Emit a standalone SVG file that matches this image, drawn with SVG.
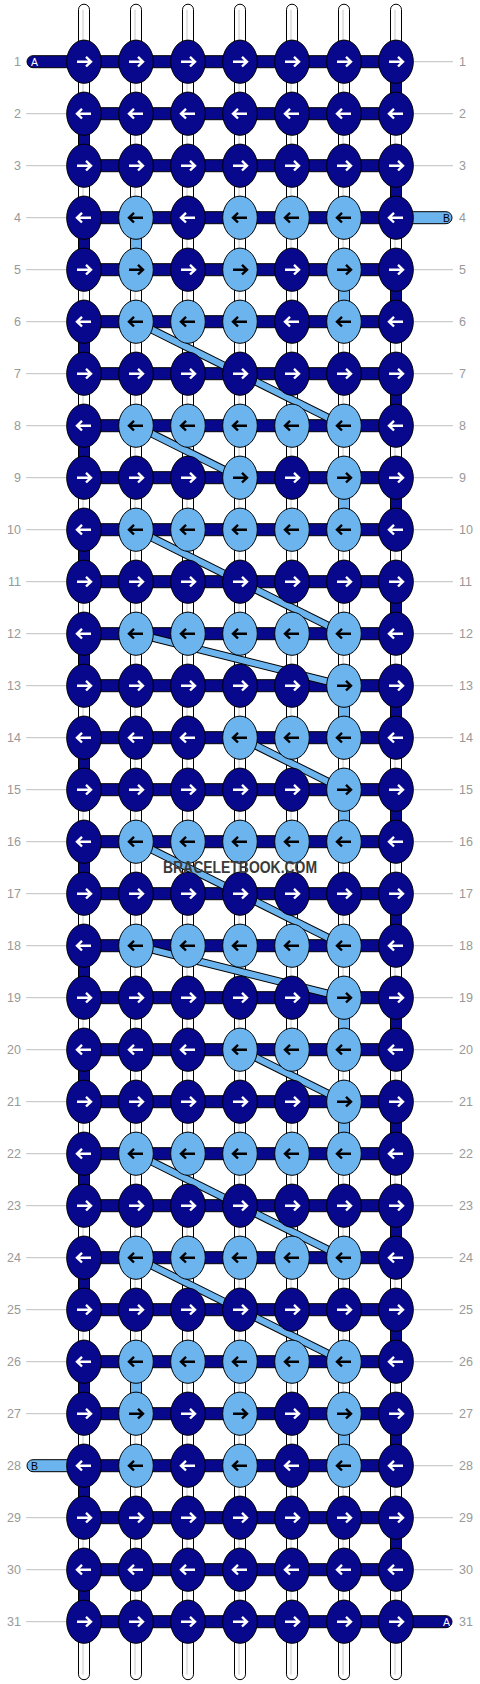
<svg xmlns="http://www.w3.org/2000/svg" xmlns:xlink="http://www.w3.org/1999/xlink" width="480" height="1684" viewBox="0 0 480 1684">
<style>
.vs{fill:#fff;stroke:#000;stroke-width:1}
.vl{stroke:#c8c8c8;stroke-width:1}
.dk{fill:#08088c;stroke:#000;stroke-width:1}
.lt{fill:#6cb4ee;stroke:#000;stroke-width:1}
.aw{fill:none;stroke:#fff;stroke-width:2.4}
.ab{fill:none;stroke:#000;stroke-width:2.4}
.bo{stroke:#000;stroke-width:8;fill:none}
.bi{stroke:#6cb4ee;stroke-width:6;fill:none}
.rl{stroke:#c0c0c0;stroke-width:1}
.num{font-family:"Liberation Sans",Arial,sans-serif;font-size:12.5px;fill:#999}
.tl{font-family:"Liberation Sans",Arial,sans-serif;font-size:10.5px}
</style>
<defs>
<rect id="hs" x="84" y="-6" width="312" height="12" class="dk"/>
<g id="dR"><ellipse rx="17.3" ry="21.6" class="dk"/><path d="M-7,0H6.5M2,-4.8L7,0L2,4.8" class="aw"/></g>
<g id="dL"><ellipse rx="17.3" ry="21.6" class="dk"/><path d="M7,0H-6.5M-2,-4.8L-7,0L-2,4.8" class="aw"/></g>
<g id="lR"><ellipse rx="17.3" ry="21.6" class="lt"/><path d="M-7,0H6.5M2,-4.8L7,0L2,4.8" class="ab"/></g>
<g id="lL"><ellipse rx="17.3" ry="21.6" class="lt"/><path d="M7,0H-6.5M-2,-4.8L-7,0L-2,4.8" class="ab"/></g>
</defs>
<g transform="translate(0,0.7)">
<g id="connectors">
<g id="vertical-strings">
<rect x="78.5" y="3.5" width="11" height="1675.5" rx="5.5" class="vs"/>
<rect x="130.5" y="3.5" width="11" height="1675.5" rx="5.5" class="vs"/>
<rect x="182.5" y="3.5" width="11" height="1675.5" rx="5.5" class="vs"/>
<rect x="234.5" y="3.5" width="11" height="1675.5" rx="5.5" class="vs"/>
<rect x="286.5" y="3.5" width="11" height="1675.5" rx="5.5" class="vs"/>
<rect x="338.5" y="3.5" width="11" height="1675.5" rx="5.5" class="vs"/>
<rect x="390.5" y="3.5" width="11" height="1675.5" rx="5.5" class="vs"/>
<line x1="83" y1="9" x2="83" y2="1674" class="vl"/>
<line x1="135" y1="9" x2="135" y2="1674" class="vl"/>
<line x1="187" y1="9" x2="187" y2="1674" class="vl"/>
<line x1="239" y1="9" x2="239" y2="1674" class="vl"/>
<line x1="291" y1="9" x2="291" y2="1674" class="vl"/>
<line x1="343" y1="9" x2="343" y2="1674" class="vl"/>
<line x1="395" y1="9" x2="395" y2="1674" class="vl"/>
</g>
<g id="turns-a">
<rect x="390.5" y="61" width="11" height="52" class="dk"/>
<rect x="390.5" y="165" width="11" height="52" class="dk"/>
<rect x="390.5" y="269" width="11" height="52" class="dk"/>
<rect x="390.5" y="373" width="11" height="52" class="dk"/>
<rect x="390.5" y="477" width="11" height="52" class="dk"/>
<rect x="390.5" y="581" width="11" height="52" class="dk"/>
<rect x="390.5" y="685" width="11" height="52" class="dk"/>
<rect x="390.5" y="789" width="11" height="52" class="dk"/>
<rect x="390.5" y="893" width="11" height="52" class="dk"/>
<rect x="390.5" y="997" width="11" height="52" class="dk"/>
<rect x="390.5" y="1101" width="11" height="52" class="dk"/>
<rect x="390.5" y="1205" width="11" height="52" class="dk"/>
<rect x="390.5" y="1309" width="11" height="52" class="dk"/>
<rect x="390.5" y="1413" width="11" height="52" class="dk"/>
<rect x="390.5" y="1517" width="11" height="52" class="dk"/>
<rect x="78.5" y="113" width="11" height="52" class="dk"/>
<rect x="78.5" y="217" width="11" height="52" class="dk"/>
<rect x="78.5" y="321" width="11" height="52" class="dk"/>
<rect x="78.5" y="425" width="11" height="52" class="dk"/>
<rect x="78.5" y="529" width="11" height="52" class="dk"/>
<rect x="78.5" y="633" width="11" height="52" class="dk"/>
<rect x="78.5" y="737" width="11" height="52" class="dk"/>
<rect x="78.5" y="841" width="11" height="52" class="dk"/>
<rect x="78.5" y="945" width="11" height="52" class="dk"/>
<rect x="78.5" y="1049" width="11" height="52" class="dk"/>
<rect x="78.5" y="1153" width="11" height="52" class="dk"/>
<rect x="78.5" y="1257" width="11" height="52" class="dk"/>
<rect x="78.5" y="1361" width="11" height="52" class="dk"/>
<rect x="78.5" y="1465" width="11" height="52" class="dk"/>
<rect x="78.5" y="1569" width="11" height="52" class="dk"/>
</g>
<g id="turns-b">
<rect x="130.5" y="217" width="11" height="52" class="lt"/>
<rect x="130.5" y="1361" width="11" height="52" class="lt"/>
<rect x="338.5" y="269" width="11" height="52" class="lt"/>
<rect x="338.5" y="477" width="11" height="52" class="lt"/>
<rect x="338.5" y="685" width="11" height="52" class="lt"/>
<rect x="338.5" y="789" width="11" height="52" class="lt"/>
<rect x="338.5" y="997" width="11" height="52" class="lt"/>
<rect x="338.5" y="1101" width="11" height="52" class="lt"/>
<rect x="338.5" y="1413" width="11" height="52" class="lt"/>
</g>
<g id="horizontal-strings">
<use href="#hs" y="61"/><use href="#hs" y="113"/><use href="#hs" y="165"/><use href="#hs" y="217"/>
<use href="#hs" y="269"/><use href="#hs" y="321"/><use href="#hs" y="373"/><use href="#hs" y="425"/>
<use href="#hs" y="477"/><use href="#hs" y="529"/><use href="#hs" y="581"/><use href="#hs" y="633"/>
<use href="#hs" y="685"/><use href="#hs" y="737"/><use href="#hs" y="789"/><use href="#hs" y="841"/>
<use href="#hs" y="893"/><use href="#hs" y="945"/><use href="#hs" y="997"/><use href="#hs" y="1049"/>
<use href="#hs" y="1101"/><use href="#hs" y="1153"/><use href="#hs" y="1205"/><use href="#hs" y="1257"/>
<use href="#hs" y="1309"/><use href="#hs" y="1361"/><use href="#hs" y="1413"/><use href="#hs" y="1465"/>
<use href="#hs" y="1517"/><use href="#hs" y="1569"/><use href="#hs" y="1621"/>
</g>
<g id="tails">
<path d="M84,55H33a6,6 0 0 0 0,12H84Z" class="dk"/>
<path d="M84,1459H33a6,6 0 0 0 0,12H84Z" class="lt"/>
<path d="M396,211H446a6,6 0 0 1 0,12H396Z" class="lt"/>
<path d="M396,1615H446a6,6 0 0 1 0,12H396Z" class="dk"/>
</g>
<g id="bands">
<path d="M136,321L344,425" class="bo"/><path d="M136,321L344,425" class="bi"/>
<path d="M136,425L240,477" class="bo"/><path d="M136,425L240,477" class="bi"/>
<path d="M136,529L344,633" class="bo"/><path d="M136,529L344,633" class="bi"/>
<path d="M136,633L344,685" class="bo"/><path d="M136,633L344,685" class="bi"/>
<path d="M240,737L344,789" class="bo"/><path d="M240,737L344,789" class="bi"/>
<path d="M136,841L344,945" class="bo"/><path d="M136,841L344,945" class="bi"/>
<path d="M136,945L344,997" class="bo"/><path d="M136,945L344,997" class="bi"/>
<path d="M240,1049L344,1101" class="bo"/><path d="M240,1049L344,1101" class="bi"/>
<path d="M136,1153L344,1257" class="bo"/><path d="M136,1153L344,1257" class="bi"/>
<path d="M136,1257L344,1361" class="bo"/><path d="M136,1257L344,1361" class="bi"/>
</g>
</g>
<g id="row-lines">
<line x1="26" y1="113" x2="70" y2="113" class="rl"/><line x1="26" y1="165" x2="70" y2="165" class="rl"/>
<line x1="26" y1="217" x2="70" y2="217" class="rl"/><line x1="26" y1="269" x2="70" y2="269" class="rl"/>
<line x1="26" y1="321" x2="70" y2="321" class="rl"/><line x1="26" y1="373" x2="70" y2="373" class="rl"/>
<line x1="26" y1="425" x2="70" y2="425" class="rl"/><line x1="26" y1="477" x2="70" y2="477" class="rl"/>
<line x1="26" y1="529" x2="70" y2="529" class="rl"/><line x1="26" y1="581" x2="70" y2="581" class="rl"/>
<line x1="26" y1="633" x2="70" y2="633" class="rl"/><line x1="26" y1="685" x2="70" y2="685" class="rl"/>
<line x1="26" y1="737" x2="70" y2="737" class="rl"/><line x1="26" y1="789" x2="70" y2="789" class="rl"/>
<line x1="26" y1="841" x2="70" y2="841" class="rl"/><line x1="26" y1="893" x2="70" y2="893" class="rl"/>
<line x1="26" y1="945" x2="70" y2="945" class="rl"/><line x1="26" y1="997" x2="70" y2="997" class="rl"/>
<line x1="26" y1="1049" x2="70" y2="1049" class="rl"/><line x1="26" y1="1101" x2="70" y2="1101" class="rl"/>
<line x1="26" y1="1153" x2="70" y2="1153" class="rl"/><line x1="26" y1="1205" x2="70" y2="1205" class="rl"/>
<line x1="26" y1="1257" x2="70" y2="1257" class="rl"/><line x1="26" y1="1309" x2="70" y2="1309" class="rl"/>
<line x1="26" y1="1361" x2="70" y2="1361" class="rl"/><line x1="26" y1="1413" x2="70" y2="1413" class="rl"/>
<line x1="26" y1="1517" x2="70" y2="1517" class="rl"/><line x1="26" y1="1569" x2="70" y2="1569" class="rl"/>
<line x1="26" y1="1621" x2="70" y2="1621" class="rl"/>
<line x1="410" y1="61" x2="453" y2="61" class="rl"/><line x1="410" y1="113" x2="453" y2="113" class="rl"/>
<line x1="410" y1="165" x2="453" y2="165" class="rl"/><line x1="410" y1="269" x2="453" y2="269" class="rl"/>
<line x1="410" y1="321" x2="453" y2="321" class="rl"/><line x1="410" y1="373" x2="453" y2="373" class="rl"/>
<line x1="410" y1="425" x2="453" y2="425" class="rl"/><line x1="410" y1="477" x2="453" y2="477" class="rl"/>
<line x1="410" y1="529" x2="453" y2="529" class="rl"/><line x1="410" y1="581" x2="453" y2="581" class="rl"/>
<line x1="410" y1="633" x2="453" y2="633" class="rl"/><line x1="410" y1="685" x2="453" y2="685" class="rl"/>
<line x1="410" y1="737" x2="453" y2="737" class="rl"/><line x1="410" y1="789" x2="453" y2="789" class="rl"/>
<line x1="410" y1="841" x2="453" y2="841" class="rl"/><line x1="410" y1="893" x2="453" y2="893" class="rl"/>
<line x1="410" y1="945" x2="453" y2="945" class="rl"/><line x1="410" y1="997" x2="453" y2="997" class="rl"/>
<line x1="410" y1="1049" x2="453" y2="1049" class="rl"/><line x1="410" y1="1101" x2="453" y2="1101" class="rl"/>
<line x1="410" y1="1153" x2="453" y2="1153" class="rl"/><line x1="410" y1="1205" x2="453" y2="1205" class="rl"/>
<line x1="410" y1="1257" x2="453" y2="1257" class="rl"/><line x1="410" y1="1309" x2="453" y2="1309" class="rl"/>
<line x1="410" y1="1361" x2="453" y2="1361" class="rl"/><line x1="410" y1="1413" x2="453" y2="1413" class="rl"/>
<line x1="410" y1="1465" x2="453" y2="1465" class="rl"/><line x1="410" y1="1517" x2="453" y2="1517" class="rl"/>
<line x1="410" y1="1569" x2="453" y2="1569" class="rl"/>
</g>
<g id="row-numbers" class="num">
<text x="21" y="65.5" text-anchor="end">1</text><text x="21" y="117.5" text-anchor="end">2</text><text x="21" y="169.5" text-anchor="end">3</text><text x="21" y="221.5" text-anchor="end">4</text><text x="21" y="273.5" text-anchor="end">5</text><text x="21" y="325.5" text-anchor="end">6</text><text x="21" y="377.5" text-anchor="end">7</text><text x="21" y="429.5" text-anchor="end">8</text><text x="21" y="481.5" text-anchor="end">9</text><text x="21" y="533.5" text-anchor="end">10</text><text x="21" y="585.5" text-anchor="end">11</text><text x="21" y="637.5" text-anchor="end">12</text><text x="21" y="689.5" text-anchor="end">13</text><text x="21" y="741.5" text-anchor="end">14</text><text x="21" y="793.5" text-anchor="end">15</text><text x="21" y="845.5" text-anchor="end">16</text><text x="21" y="897.5" text-anchor="end">17</text><text x="21" y="949.5" text-anchor="end">18</text><text x="21" y="1001.5" text-anchor="end">19</text><text x="21" y="1053.5" text-anchor="end">20</text><text x="21" y="1105.5" text-anchor="end">21</text><text x="21" y="1157.5" text-anchor="end">22</text><text x="21" y="1209.5" text-anchor="end">23</text><text x="21" y="1261.5" text-anchor="end">24</text><text x="21" y="1313.5" text-anchor="end">25</text><text x="21" y="1365.5" text-anchor="end">26</text><text x="21" y="1417.5" text-anchor="end">27</text><text x="21" y="1469.5" text-anchor="end">28</text><text x="21" y="1521.5" text-anchor="end">29</text><text x="21" y="1573.5" text-anchor="end">30</text><text x="21" y="1625.5" text-anchor="end">31</text>
<text x="459" y="65.5">1</text><text x="459" y="117.5">2</text><text x="459" y="169.5">3</text><text x="459" y="221.5">4</text><text x="459" y="273.5">5</text><text x="459" y="325.5">6</text><text x="459" y="377.5">7</text><text x="459" y="429.5">8</text><text x="459" y="481.5">9</text><text x="459" y="533.5">10</text><text x="459" y="585.5">11</text><text x="459" y="637.5">12</text><text x="459" y="689.5">13</text><text x="459" y="741.5">14</text><text x="459" y="793.5">15</text><text x="459" y="845.5">16</text><text x="459" y="897.5">17</text><text x="459" y="949.5">18</text><text x="459" y="1001.5">19</text><text x="459" y="1053.5">20</text><text x="459" y="1105.5">21</text><text x="459" y="1157.5">22</text><text x="459" y="1209.5">23</text><text x="459" y="1261.5">24</text><text x="459" y="1313.5">25</text><text x="459" y="1365.5">26</text><text x="459" y="1417.5">27</text><text x="459" y="1469.5">28</text><text x="459" y="1521.5">29</text><text x="459" y="1573.5">30</text><text x="459" y="1625.5">31</text>
</g>
<g id="tail-labels" class="tl">
<text x="31" y="65" fill="#fff">A</text>
<text x="31" y="1469" fill="#000">B</text>
<text x="450" y="221" fill="#000" text-anchor="end">B</text>
<text x="450" y="1625" fill="#fff" text-anchor="end">A</text>
</g>
<g id="knots">
<g id="k1_1"><use href="#dR" x="84" y="61"/></g><g id="k1_2"><use href="#dR" x="136" y="61"/></g><g id="k1_3"><use href="#dR" x="188" y="61"/></g><g id="k1_4"><use href="#dR" x="240" y="61"/></g><g id="k1_5"><use href="#dR" x="292" y="61"/></g><g id="k1_6"><use href="#dR" x="344" y="61"/></g><g id="k1_7"><use href="#dR" x="396" y="61"/></g>
<g id="k2_1"><use href="#dL" x="84" y="113"/></g><g id="k2_2"><use href="#dL" x="136" y="113"/></g><g id="k2_3"><use href="#dL" x="188" y="113"/></g><g id="k2_4"><use href="#dL" x="240" y="113"/></g><g id="k2_5"><use href="#dL" x="292" y="113"/></g><g id="k2_6"><use href="#dL" x="344" y="113"/></g><g id="k2_7"><use href="#dL" x="396" y="113"/></g>
<g id="k3_1"><use href="#dR" x="84" y="165"/></g><g id="k3_2"><use href="#dR" x="136" y="165"/></g><g id="k3_3"><use href="#dR" x="188" y="165"/></g><g id="k3_4"><use href="#dR" x="240" y="165"/></g><g id="k3_5"><use href="#dR" x="292" y="165"/></g><g id="k3_6"><use href="#dR" x="344" y="165"/></g><g id="k3_7"><use href="#dR" x="396" y="165"/></g>
<g id="k4_1"><use href="#dL" x="84" y="217"/></g><g id="k4_2"><use href="#lL" x="136" y="217"/></g><g id="k4_3"><use href="#dL" x="188" y="217"/></g><g id="k4_4"><use href="#lL" x="240" y="217"/></g><g id="k4_5"><use href="#lL" x="292" y="217"/></g><g id="k4_6"><use href="#lL" x="344" y="217"/></g><g id="k4_7"><use href="#dL" x="396" y="217"/></g>
<g id="k5_1"><use href="#dR" x="84" y="269"/></g><g id="k5_2"><use href="#lR" x="136" y="269"/></g><g id="k5_3"><use href="#dR" x="188" y="269"/></g><g id="k5_4"><use href="#lR" x="240" y="269"/></g><g id="k5_5"><use href="#dR" x="292" y="269"/></g><g id="k5_6"><use href="#lR" x="344" y="269"/></g><g id="k5_7"><use href="#dR" x="396" y="269"/></g>
<g id="k6_1"><use href="#dL" x="84" y="321"/></g><g id="k6_2"><use href="#lL" x="136" y="321"/></g><g id="k6_3"><use href="#lL" x="188" y="321"/></g><g id="k6_4"><use href="#lL" x="240" y="321"/></g><g id="k6_5"><use href="#dL" x="292" y="321"/></g><g id="k6_6"><use href="#lL" x="344" y="321"/></g><g id="k6_7"><use href="#dL" x="396" y="321"/></g>
<g id="k7_1"><use href="#dR" x="84" y="373"/></g><g id="k7_2"><use href="#dR" x="136" y="373"/></g><g id="k7_3"><use href="#dR" x="188" y="373"/></g><g id="k7_4"><use href="#dR" x="240" y="373"/></g><g id="k7_5"><use href="#dR" x="292" y="373"/></g><g id="k7_6"><use href="#dR" x="344" y="373"/></g><g id="k7_7"><use href="#dR" x="396" y="373"/></g>
<g id="k8_1"><use href="#dL" x="84" y="425"/></g><g id="k8_2"><use href="#lL" x="136" y="425"/></g><g id="k8_3"><use href="#lL" x="188" y="425"/></g><g id="k8_4"><use href="#lL" x="240" y="425"/></g><g id="k8_5"><use href="#lL" x="292" y="425"/></g><g id="k8_6"><use href="#lL" x="344" y="425"/></g><g id="k8_7"><use href="#dL" x="396" y="425"/></g>
<g id="k9_1"><use href="#dR" x="84" y="477"/></g><g id="k9_2"><use href="#dR" x="136" y="477"/></g><g id="k9_3"><use href="#dR" x="188" y="477"/></g><g id="k9_4"><use href="#lR" x="240" y="477"/></g><g id="k9_5"><use href="#dR" x="292" y="477"/></g><g id="k9_6"><use href="#lR" x="344" y="477"/></g><g id="k9_7"><use href="#dR" x="396" y="477"/></g>
<g id="k10_1"><use href="#dL" x="84" y="529"/></g><g id="k10_2"><use href="#lL" x="136" y="529"/></g><g id="k10_3"><use href="#lL" x="188" y="529"/></g><g id="k10_4"><use href="#lL" x="240" y="529"/></g><g id="k10_5"><use href="#lL" x="292" y="529"/></g><g id="k10_6"><use href="#lL" x="344" y="529"/></g><g id="k10_7"><use href="#dL" x="396" y="529"/></g>
<g id="k11_1"><use href="#dR" x="84" y="581"/></g><g id="k11_2"><use href="#dR" x="136" y="581"/></g><g id="k11_3"><use href="#dR" x="188" y="581"/></g><g id="k11_4"><use href="#dR" x="240" y="581"/></g><g id="k11_5"><use href="#dR" x="292" y="581"/></g><g id="k11_6"><use href="#dR" x="344" y="581"/></g><g id="k11_7"><use href="#dR" x="396" y="581"/></g>
<g id="k12_1"><use href="#dL" x="84" y="633"/></g><g id="k12_2"><use href="#lL" x="136" y="633"/></g><g id="k12_3"><use href="#lL" x="188" y="633"/></g><g id="k12_4"><use href="#lL" x="240" y="633"/></g><g id="k12_5"><use href="#lL" x="292" y="633"/></g><g id="k12_6"><use href="#lL" x="344" y="633"/></g><g id="k12_7"><use href="#dL" x="396" y="633"/></g>
<g id="k13_1"><use href="#dR" x="84" y="685"/></g><g id="k13_2"><use href="#dR" x="136" y="685"/></g><g id="k13_3"><use href="#dR" x="188" y="685"/></g><g id="k13_4"><use href="#dR" x="240" y="685"/></g><g id="k13_5"><use href="#dR" x="292" y="685"/></g><g id="k13_6"><use href="#lR" x="344" y="685"/></g><g id="k13_7"><use href="#dR" x="396" y="685"/></g>
<g id="k14_1"><use href="#dL" x="84" y="737"/></g><g id="k14_2"><use href="#dL" x="136" y="737"/></g><g id="k14_3"><use href="#dL" x="188" y="737"/></g><g id="k14_4"><use href="#lL" x="240" y="737"/></g><g id="k14_5"><use href="#lL" x="292" y="737"/></g><g id="k14_6"><use href="#lL" x="344" y="737"/></g><g id="k14_7"><use href="#dL" x="396" y="737"/></g>
<g id="k15_1"><use href="#dR" x="84" y="789"/></g><g id="k15_2"><use href="#dR" x="136" y="789"/></g><g id="k15_3"><use href="#dR" x="188" y="789"/></g><g id="k15_4"><use href="#dR" x="240" y="789"/></g><g id="k15_5"><use href="#dR" x="292" y="789"/></g><g id="k15_6"><use href="#lR" x="344" y="789"/></g><g id="k15_7"><use href="#dR" x="396" y="789"/></g>
<g id="k16_1"><use href="#dL" x="84" y="841"/></g><g id="k16_2"><use href="#lL" x="136" y="841"/></g><g id="k16_3"><use href="#lL" x="188" y="841"/></g><g id="k16_4"><use href="#lL" x="240" y="841"/></g><g id="k16_5"><use href="#lL" x="292" y="841"/></g><g id="k16_6"><use href="#lL" x="344" y="841"/></g><g id="k16_7"><use href="#dL" x="396" y="841"/></g>
<g id="k17_1"><use href="#dR" x="84" y="893"/></g><g id="k17_2"><use href="#dR" x="136" y="893"/></g><g id="k17_3"><use href="#dR" x="188" y="893"/></g><g id="k17_4"><use href="#dR" x="240" y="893"/></g><g id="k17_5"><use href="#dR" x="292" y="893"/></g><g id="k17_6"><use href="#dR" x="344" y="893"/></g><g id="k17_7"><use href="#dR" x="396" y="893"/></g>
<g id="k18_1"><use href="#dL" x="84" y="945"/></g><g id="k18_2"><use href="#lL" x="136" y="945"/></g><g id="k18_3"><use href="#lL" x="188" y="945"/></g><g id="k18_4"><use href="#lL" x="240" y="945"/></g><g id="k18_5"><use href="#lL" x="292" y="945"/></g><g id="k18_6"><use href="#lL" x="344" y="945"/></g><g id="k18_7"><use href="#dL" x="396" y="945"/></g>
<g id="k19_1"><use href="#dR" x="84" y="997"/></g><g id="k19_2"><use href="#dR" x="136" y="997"/></g><g id="k19_3"><use href="#dR" x="188" y="997"/></g><g id="k19_4"><use href="#dR" x="240" y="997"/></g><g id="k19_5"><use href="#dR" x="292" y="997"/></g><g id="k19_6"><use href="#lR" x="344" y="997"/></g><g id="k19_7"><use href="#dR" x="396" y="997"/></g>
<g id="k20_1"><use href="#dL" x="84" y="1049"/></g><g id="k20_2"><use href="#dL" x="136" y="1049"/></g><g id="k20_3"><use href="#dL" x="188" y="1049"/></g><g id="k20_4"><use href="#lL" x="240" y="1049"/></g><g id="k20_5"><use href="#lL" x="292" y="1049"/></g><g id="k20_6"><use href="#lL" x="344" y="1049"/></g><g id="k20_7"><use href="#dL" x="396" y="1049"/></g>
<g id="k21_1"><use href="#dR" x="84" y="1101"/></g><g id="k21_2"><use href="#dR" x="136" y="1101"/></g><g id="k21_3"><use href="#dR" x="188" y="1101"/></g><g id="k21_4"><use href="#dR" x="240" y="1101"/></g><g id="k21_5"><use href="#dR" x="292" y="1101"/></g><g id="k21_6"><use href="#lR" x="344" y="1101"/></g><g id="k21_7"><use href="#dR" x="396" y="1101"/></g>
<g id="k22_1"><use href="#dL" x="84" y="1153"/></g><g id="k22_2"><use href="#lL" x="136" y="1153"/></g><g id="k22_3"><use href="#lL" x="188" y="1153"/></g><g id="k22_4"><use href="#lL" x="240" y="1153"/></g><g id="k22_5"><use href="#lL" x="292" y="1153"/></g><g id="k22_6"><use href="#lL" x="344" y="1153"/></g><g id="k22_7"><use href="#dL" x="396" y="1153"/></g>
<g id="k23_1"><use href="#dR" x="84" y="1205"/></g><g id="k23_2"><use href="#dR" x="136" y="1205"/></g><g id="k23_3"><use href="#dR" x="188" y="1205"/></g><g id="k23_4"><use href="#dR" x="240" y="1205"/></g><g id="k23_5"><use href="#dR" x="292" y="1205"/></g><g id="k23_6"><use href="#dR" x="344" y="1205"/></g><g id="k23_7"><use href="#dR" x="396" y="1205"/></g>
<g id="k24_1"><use href="#dL" x="84" y="1257"/></g><g id="k24_2"><use href="#lL" x="136" y="1257"/></g><g id="k24_3"><use href="#lL" x="188" y="1257"/></g><g id="k24_4"><use href="#lL" x="240" y="1257"/></g><g id="k24_5"><use href="#lL" x="292" y="1257"/></g><g id="k24_6"><use href="#lL" x="344" y="1257"/></g><g id="k24_7"><use href="#dL" x="396" y="1257"/></g>
<g id="k25_1"><use href="#dR" x="84" y="1309"/></g><g id="k25_2"><use href="#dR" x="136" y="1309"/></g><g id="k25_3"><use href="#dR" x="188" y="1309"/></g><g id="k25_4"><use href="#dR" x="240" y="1309"/></g><g id="k25_5"><use href="#dR" x="292" y="1309"/></g><g id="k25_6"><use href="#dR" x="344" y="1309"/></g><g id="k25_7"><use href="#dR" x="396" y="1309"/></g>
<g id="k26_1"><use href="#dL" x="84" y="1361"/></g><g id="k26_2"><use href="#lL" x="136" y="1361"/></g><g id="k26_3"><use href="#lL" x="188" y="1361"/></g><g id="k26_4"><use href="#lL" x="240" y="1361"/></g><g id="k26_5"><use href="#lL" x="292" y="1361"/></g><g id="k26_6"><use href="#lL" x="344" y="1361"/></g><g id="k26_7"><use href="#dL" x="396" y="1361"/></g>
<g id="k27_1"><use href="#dR" x="84" y="1413"/></g><g id="k27_2"><use href="#lR" x="136" y="1413"/></g><g id="k27_3"><use href="#dR" x="188" y="1413"/></g><g id="k27_4"><use href="#lR" x="240" y="1413"/></g><g id="k27_5"><use href="#dR" x="292" y="1413"/></g><g id="k27_6"><use href="#lR" x="344" y="1413"/></g><g id="k27_7"><use href="#dR" x="396" y="1413"/></g>
<g id="k28_1"><use href="#dL" x="84" y="1465"/></g><g id="k28_2"><use href="#lL" x="136" y="1465"/></g><g id="k28_3"><use href="#dL" x="188" y="1465"/></g><g id="k28_4"><use href="#lL" x="240" y="1465"/></g><g id="k28_5"><use href="#dL" x="292" y="1465"/></g><g id="k28_6"><use href="#lL" x="344" y="1465"/></g><g id="k28_7"><use href="#dL" x="396" y="1465"/></g>
<g id="k29_1"><use href="#dR" x="84" y="1517"/></g><g id="k29_2"><use href="#dR" x="136" y="1517"/></g><g id="k29_3"><use href="#dR" x="188" y="1517"/></g><g id="k29_4"><use href="#dR" x="240" y="1517"/></g><g id="k29_5"><use href="#dR" x="292" y="1517"/></g><g id="k29_6"><use href="#dR" x="344" y="1517"/></g><g id="k29_7"><use href="#dR" x="396" y="1517"/></g>
<g id="k30_1"><use href="#dL" x="84" y="1569"/></g><g id="k30_2"><use href="#dL" x="136" y="1569"/></g><g id="k30_3"><use href="#dL" x="188" y="1569"/></g><g id="k30_4"><use href="#dL" x="240" y="1569"/></g><g id="k30_5"><use href="#dL" x="292" y="1569"/></g><g id="k30_6"><use href="#dL" x="344" y="1569"/></g><g id="k30_7"><use href="#dL" x="396" y="1569"/></g>
<g id="k31_1"><use href="#dR" x="84" y="1621"/></g><g id="k31_2"><use href="#dR" x="136" y="1621"/></g><g id="k31_3"><use href="#dR" x="188" y="1621"/></g><g id="k31_4"><use href="#dR" x="240" y="1621"/></g><g id="k31_5"><use href="#dR" x="292" y="1621"/></g><g id="k31_6"><use href="#dR" x="344" y="1621"/></g><g id="k31_7"><use href="#dR" x="396" y="1621"/></g>
</g>
<text id="watermark" x="240" y="872.5" text-anchor="middle" textLength="154" lengthAdjust="spacingAndGlyphs" style="font-family:'Liberation Sans',Arial,sans-serif;font-size:16px;font-weight:bold;fill:#3a3a3a">BRACELETBOOK.COM</text>
</g>
</svg>
